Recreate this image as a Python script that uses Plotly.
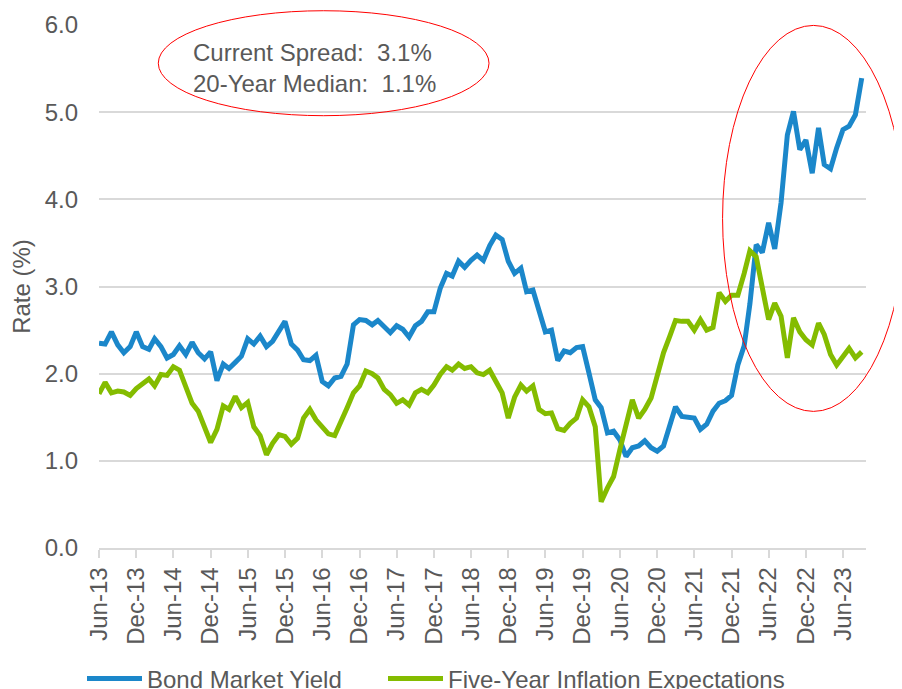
import pandas as pd
import plotly.graph_objects as go

# Monthly observations, Jun-2013 through Sep-2023
start_month = "2013-06-01"
bond_yield = [
    2.35, 2.34, 2.48, 2.33, 2.24, 2.31, 2.48, 2.31, 2.28, 2.40, 2.31, 2.18,
    2.22, 2.32, 2.22, 2.36, 2.24, 2.17, 2.25, 1.92, 2.11, 2.06, 2.13, 2.20,
    2.40, 2.34, 2.43, 2.31, 2.37, 2.48, 2.60, 2.34, 2.27, 2.16, 2.15, 2.21,
    1.91, 1.86, 1.95, 1.97, 2.11, 2.56, 2.62, 2.61, 2.56, 2.61, 2.53, 2.47,
    2.55, 2.51, 2.42, 2.55, 2.60, 2.71, 2.71, 2.98, 3.15, 3.12, 3.29, 3.22,
    3.30, 3.36, 3.30, 3.47, 3.59, 3.54, 3.29, 3.15, 3.21, 2.94, 2.96, 2.70,
    2.48, 2.50, 2.15, 2.26, 2.24, 2.30, 2.31, 2.01, 1.70, 1.61, 1.32, 1.34,
    1.24, 1.05, 1.15, 1.17, 1.23, 1.15, 1.11, 1.17, 1.39, 1.62, 1.51, 1.50,
    1.49, 1.36, 1.42, 1.57, 1.66, 1.69, 1.75, 2.10, 2.32, 2.80, 3.48, 3.39,
    3.73, 3.43, 3.96, 4.74, 5.01, 4.57, 4.68, 4.30, 4.82, 4.40, 4.35, 4.59,
    4.80, 4.84, 4.97, 5.39,
]
inflation_exp = [
    1.77, 1.90, 1.78, 1.80, 1.79, 1.75, 1.83, 1.88, 1.94, 1.86, 1.99, 1.98,
    2.08, 2.04, 1.85, 1.66, 1.57, 1.38, 1.21, 1.36, 1.63, 1.59, 1.74, 1.61,
    1.67, 1.39, 1.29, 1.07, 1.20, 1.30, 1.28, 1.19, 1.26, 1.49, 1.59, 1.47,
    1.39, 1.31, 1.29, 1.47, 1.61, 1.78, 1.86, 2.03, 2.00, 1.95, 1.82, 1.76,
    1.66, 1.70, 1.64, 1.78, 1.82, 1.78, 1.87, 1.99, 2.08, 2.04, 2.11, 2.06,
    2.08, 2.01, 1.99, 2.04, 1.91, 1.78, 1.49, 1.73, 1.87, 1.80, 1.86, 1.59,
    1.54, 1.55, 1.37, 1.35, 1.43, 1.49, 1.70, 1.62, 1.39, 0.53, 0.69, 0.82,
    1.13, 1.41, 1.70, 1.49, 1.59, 1.72, 1.98, 2.24, 2.43, 2.61, 2.60, 2.60,
    2.50, 2.62, 2.50, 2.53, 2.93, 2.83, 2.90, 2.90, 3.15, 3.41, 3.34, 3.00,
    2.62, 2.81, 2.66, 2.18, 2.64, 2.48, 2.39, 2.33, 2.58, 2.45, 2.22, 2.10,
    2.20, 2.29, 2.18, 2.25,
]
months = pd.date_range(start_month, periods=len(bond_yield), freq="MS")

series_names = ["Bond Market Yield", "Five-Year Inflation Expectations"]
series_colors = ["#1B87CA", "#84BC00"]
note_lines = ["Current Spread:\u00a0 3.1%", "20-Year Median:\u00a0 1.1%"]

FONT = "Liberation Sans, Arial, sans-serif"
GREY = "#595959"
GRID = "#D9D9D9"
FS = 24

fig = go.Figure()
for name, vals, col, lg in zip(series_names, [bond_yield, inflation_exp],
                               series_colors, ["legend", "legend2"]):
    fig.add_trace(go.Scatter(x=months, y=vals, mode="lines", name=name,
                             legend=lg, line=dict(color=col, width=5)))

legend_common = dict(orientation="h", xref="container", yref="container",
                     y=18 / 689, xanchor="left", yanchor="middle",
                     font=dict(size=FS, color=GREY), itemwidth=55,
                     bgcolor="rgba(0,0,0,0)")

fig.update_layout(
    width=902, height=689,
    margin=dict(l=91, r=44, t=17, b=149),
    paper_bgcolor="white", plot_bgcolor="white",
    font=dict(family=FONT, size=FS, color=GREY),
    showlegend=True,
    legend=dict(x=74 / 902, **legend_common),
    legend2=dict(x=375 / 902, **legend_common),
    xaxis=dict(type="date", range=["2013-06-01", "2023-09-22"],
               tick0="2013-06-01", dtick="M6", tickformat="%b-%y",
               tickangle=-90, ticks="outside", ticklen=8, tickwidth=1.5,
               tickcolor=GRID, showline=True, linecolor=GRID, linewidth=1.5,
               showgrid=False, zeroline=False, automargin=False,
               tickfont=dict(size=FS, color=GREY)),
    yaxis=dict(range=[0, 6], dtick=1, tickformat=".1f", showgrid=True,
               gridcolor=GRID, gridwidth=1.5, zeroline=False, showline=False,
               ticks="", ticklabelstandoff=20, automargin=False,
               tickfont=dict(size=FS, color=GREY),
               title=dict(text="Rate (%)", standoff=12,
                          font=dict(size=FS, color=GREY))),
)

# Red ellipses highlighting the note and the recent period
fig.add_shape(type="circle", xref="paper", yref="paper",
              x0=0.0773, x1=0.5085, y0=0.8266, y1=1.0273,
              line=dict(color="red", width=1))
fig.add_shape(type="circle", xref="paper", yref="paper",
              x0=0.813, x1=1.050, y0=0.2612, y1=0.9992,
              line=dict(color="red", width=1))

fig.add_annotation(xref="paper", yref="paper", x=0.12, y=0.918,
                   xanchor="left", yanchor="middle", align="left",
                   showarrow=False, text="<br>".join(note_lines),
                   font=dict(size=FS, color=GREY, family=FONT))

fig.write_html("out.html")
